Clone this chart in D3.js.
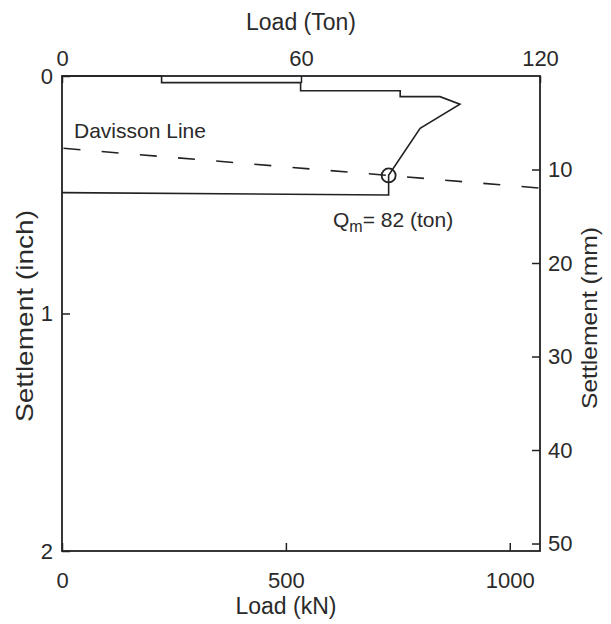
<!DOCTYPE html>
<html>
<head>
<meta charset="utf-8">
<script src="https://cdn.jsdelivr.net/npm/d3@7"></script>
<style>
  html, body { margin: 0; padding: 0; background: #fff; }
  svg { display: block; }
  text { font-family: "Liberation Sans", Arial, Helvetica, sans-serif; fill: #2a2a2a; }
</style>
</head>
<body>
<svg id="chart" width="611" height="624"></svg>
<script>
// Pile load test: load–settlement curve with the Davisson failure criterion.
const KN_PER_TON = 8.896;            // short ton → kN
const loadMaxTon = 120;
const settleMaxIn = 2;
const MM_PER_IN = 25.4;

// Tick labels
const topTicksTon = [0, 60, 120];
const bottomTicksKN = [0, 500, 1000];
const leftTicksIn = [0, 1, 2];
const rightTicksMM = [10, 20, 30, 40, 50];

// Measured load–settlement path (load in ton, settlement in inch)
const curveLoadTon   = [0, 25.0, 25.0, 59.9, 59.9, 84.9, 84.9, 94.9, 99.9, 89.9, 82.0, 82.0, 0];
const curveSettleIn  = [0, 0, 0.028, 0.028, 0.062, 0.062, 0.087, 0.087, 0.119, 0.220, 0.418, 0.501, 0.491];

// Davisson offset line (end points, ton / inch)
const davissonLoadTon  = [0, 120];
const davissonSettleIn = [0.304, 0.472];

// Failure load from the Davisson criterion
const qmTon = 82;

const svg = d3.select("#chart");
const plot = { left: 62, right: 540, top: 76, bottom: 551 };

const xTon = d3.scaleLinear().domain([0, loadMaxTon]).range([plot.left, plot.right]);
const xKN  = d3.scaleLinear().domain([0, loadMaxTon * KN_PER_TON]).range([plot.left, plot.right]);
const yIn  = d3.scaleLinear().domain([0, settleMaxIn]).range([plot.top, plot.bottom]);
const yMM  = d3.scaleLinear().domain([0, settleMaxIn * MM_PER_IN]).range([plot.top, plot.bottom]);

const ink = "#222";

// Axes (ticks point inward)
function styleAxis(g, fontSize) {
  g.select(".domain").remove();
  g.selectAll(".tick line").attr("stroke", ink).attr("stroke-width", 1.5);
  g.selectAll(".tick text").attr("fill", "#2a2a2a").style("font-size", fontSize + "px")
    .attr("font-family", null);
}

svg.append("g")
  .attr("transform", `translate(0,${plot.top})`)
  .call(d3.axisTop(xTon).tickValues(topTicksTon).tickFormat(d3.format("d")).tickSize(-7).tickPadding(10))
  .call(g => styleAxis(g, 22));

svg.append("g")
  .attr("transform", `translate(0,${plot.bottom})`)
  .call(d3.axisBottom(xKN).tickValues(bottomTicksKN).tickFormat(d3.format("d")).tickSize(-8).tickPadding(21))
  .call(g => styleAxis(g, 22));

svg.append("g")
  .attr("transform", `translate(${plot.left},0)`)
  .call(d3.axisLeft(yIn).tickValues(leftTicksIn).tickFormat(d3.format("d")).tickSize(-8).tickPadding(9))
  .call(g => styleAxis(g, 22));

svg.append("g")
  .attr("transform", `translate(${plot.right},0)`)
  .call(d3.axisRight(yMM).tickValues(rightTicksMM).tickFormat(d3.format("d")).tickSize(-8).tickPadding(8))
  .call(g => styleAxis(g, 22));

// Frame
svg.append("rect")
  .attr("x", plot.left).attr("y", plot.top)
  .attr("width", plot.right - plot.left).attr("height", plot.bottom - plot.top)
  .attr("fill", "none").attr("stroke", ink).attr("stroke-width", 1.8);

// Davisson line
const davLine = d3.line().x(d => xTon(d[0])).y(d => yIn(d[1]));
svg.append("path")
  .datum(d3.zip(davissonLoadTon, davissonSettleIn))
  .attr("d", davLine)
  .attr("fill", "none").attr("stroke", ink).attr("stroke-width", 1.6)
  .attr("stroke-dasharray", "17,21.3")
  .attr("stroke-dashoffset", -1.5);

// Load–settlement curve
svg.append("path")
  .datum(d3.zip(curveLoadTon, curveSettleIn))
  .attr("d", davLine)
  .attr("fill", "none").attr("stroke", ink).attr("stroke-width", 1.6)
  .attr("stroke-linejoin", "miter");

// Failure point on the Davisson line
const davAt = d3.scaleLinear().domain(davissonLoadTon).range(davissonSettleIn);
svg.append("circle")
  .attr("cx", xTon(qmTon)).attr("cy", yIn(davAt(qmTon)))
  .attr("r", 7)
  .attr("fill", "none").attr("stroke", ink).attr("stroke-width", 1.8);

// Annotations
svg.append("text")
  .attr("x", 74).attr("y", 138)
  .style("font-size", "21px")
  .text("Davisson Line");

const qm = svg.append("text")
  .attr("x", 333).attr("y", 227)
  .style("font-size", "21px");
qm.append("tspan").text("Q");
qm.append("tspan").attr("dy", 5).style("font-size", "16px").text("m");
qm.append("tspan").attr("dy", -5).text("= " + qmTon + " (ton)");

// Axis titles
svg.append("text")
  .attr("x", 301).attr("y", 30)
  .attr("text-anchor", "middle")
  .style("font-size", "23px")
  .text("Load (Ton)");

svg.append("text")
  .attr("x", 286).attr("y", 614)
  .attr("text-anchor", "middle")
  .style("font-size", "23px")
  .text("Load (kN)");

svg.append("text")
  .attr("transform", `translate(33,316) rotate(-90)`)
  .attr("text-anchor", "middle")
  .attr("textLength", 212)
  .attr("lengthAdjust", "spacingAndGlyphs")
  .style("font-size", "24px")
  .text("Settlement (inch)");

svg.append("text")
  .attr("transform", `translate(597,318) rotate(-90)`)
  .attr("text-anchor", "middle")
  .attr("textLength", 182)
  .attr("lengthAdjust", "spacingAndGlyphs")
  .style("font-size", "22px")
  .text("Settlement (mm)");
</script>
</body>
</html>
